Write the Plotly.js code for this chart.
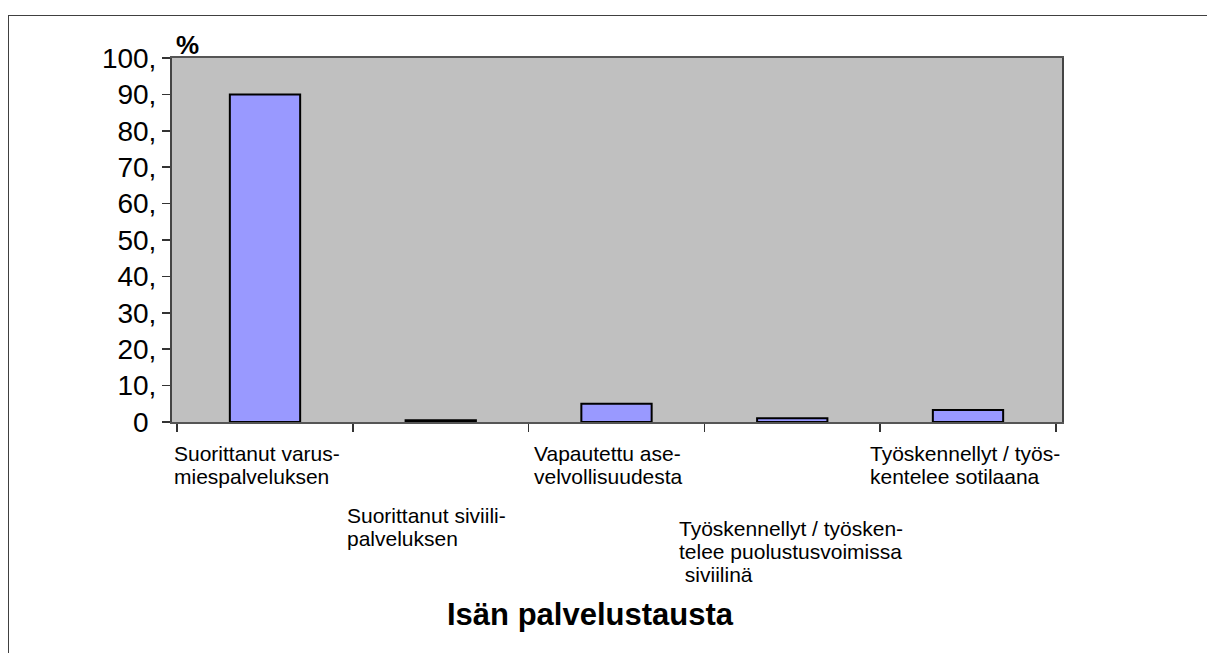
<!DOCTYPE html>
<html>
<head>
<meta charset="utf-8">
<script src="https://cdn.plot.ly/plotly-3.0.1.min.js"></script>
<style>
  html, body { margin: 0; padding: 0; background: #ffffff; overflow: hidden; }
  #chart { width: 1207px; height: 653px; position: absolute; left: 0; top: 0; }
  #frame { position: absolute; left: 8px; top: 15px; width: 1300px; height: 700px;
           border-left: 1.5px solid #404040; border-top: 1.5px solid #404040; pointer-events: none; }
</style>
</head>
<body>
<div id="chart"></div>
<div id="frame"></div>
<script>
// ---- data ----
const categories = [
  "Suorittanut varusmiespalveluksen",
  "Suorittanut siviilipalveluksen",
  "Vapautettu asevelvollisuudesta",
  "Työskennellyt / työskentelee puolustusvoimissa siviilinä",
  "Työskennellyt / työskentelee sotilaana"
];
const values = [90, 0.5, 5, 1, 3.3];
const labelLines = [
  ["Suorittanut varus-", "miespalveluksen"],
  ["Suorittanut siviili-", "palveluksen"],
  ["Vapautettu ase-", "velvollisuudesta"],
  ["Työskennellyt / työsken-", "telee puolustusvoimissa", "\u00A0siviilinä"],
  ["Työskennellyt / työs-", "kentelee sotilaana"]
];
const yTickVals = [0, 10, 20, 30, 40, 50, 60, 70, 80, 90, 100];
const yTickText = ["0\u00A0", "10,", "20,", "30,", "40,", "50,", "60,", "70,", "80,", "90,", "100,"];
const xTitle = "Isän palvelustausta";
const yUnit = "%";

// ---- label placement (pixels relative to category centre / axis) ----
const labelXShift = [-93, -96, -85, -115, -100];
const labelFirstLineCenter = [31, 93, 31, 106, 31];
const lineSpacing = 23;

const annotations = [];
labelLines.forEach((lines, ci) => {
  lines.forEach((ln, li) => {
    annotations.push({
      x: categories[ci], xref: "x",
      y: 0, yref: "paper",
      xanchor: "left", yanchor: "middle",
      xshift: labelXShift[ci],
      yshift: -(labelFirstLineCenter[ci] + li * lineSpacing),
      text: ln, showarrow: false,
      font: { family: "Liberation Sans, Arial, sans-serif", size: 21, color: "#000" }
    });
  });
});
annotations.push({
  x: 0, xref: "paper", y: 1, yref: "paper",
  xanchor: "left", yanchor: "bottom", xshift: 2, yshift: -4,
  text: "<b>" + yUnit + "</b>", showarrow: false,
  font: { family: "Liberation Sans, Arial, sans-serif", size: 26, color: "#000" }
});
annotations.push({
  x: 0.5, xref: "paper", y: 0, yref: "paper",
  xanchor: "center", yanchor: "middle", xshift: -27, yshift: -192,
  text: "<b>" + xTitle + "</b>", showarrow: false,
  font: { family: "Liberation Sans, Arial, sans-serif", size: 31, color: "#000" }
});

const trace = {
  type: "bar",
  x: categories,
  y: values,
  marker: { color: "#9999FF", line: { color: "#000000", width: 2 } },
  hoverinfo: "x+y"
};

const layout = {
  width: 1207, height: 653,
  margin: { l: 172, r: 145, t: 58, b: 231 },
  paper_bgcolor: "#ffffff",
  plot_bgcolor: "#C0C0C0",
  bargap: 0.6,
  showlegend: false,
  font: { family: "Liberation Sans, Arial, sans-serif", color: "#000" },
  xaxis: {
    type: "category",
    automargin: false,
    tickson: "boundaries",
    ticks: "outside", ticklen: 8, tickwidth: 1.5, tickcolor: "#333",
    showticklabels: false,
    showline: true, linecolor: "#555", linewidth: 2, mirror: true,
    showgrid: false
  },
  yaxis: {
    range: [0, 100],
    automargin: false,
    tickvals: yTickVals, ticktext: yTickText,
    ticks: "outside", ticklen: 8, tickwidth: 1.5, tickcolor: "#333",
    tickfont: { size: 28, color: "#000" },
    ticklabelstandoff: 0,
    showline: true, linecolor: "#444", linewidth: 2, mirror: true,
    showgrid: false, zeroline: false
  },
  annotations: annotations
};

Plotly.newPlot("chart", [trace], layout, { displayModeBar: false, staticPlot: true });
</script>
</body>
</html>
